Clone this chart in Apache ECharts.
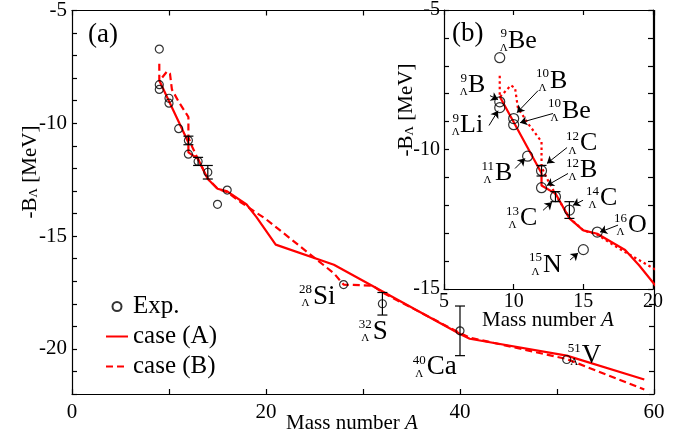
<!DOCTYPE html>
<html>
<head>
<meta charset="utf-8">
<script src="https://cdn.jsdelivr.net/npm/echarts@6.0.0/dist/echarts.min.js"></script>
<style>
  html, body { margin: 0; padding: 0; background: #fff; }
  #chart { width: 689px; height: 436px; }
</style>
</head>
<body>
<div id="chart"></div>
<script>
// experimental binding energies (-B_Lambda, MeV) vs mass number
const expA = [9, 9, 9, 10, 10, 11, 12, 12, 13, 14, 15, 16, 28, 32, 40, 51]
const expB = [-6.71, -8.29, -8.5, -8.89, -9.11, -10.24, -10.76, -11.37, -11.69, -12.17, -13.59, -12.96, -17.15, -18.0, -19.2, -20.47]
const expErr = [0, 0, 0, 0, 0, 0, 0.19, 0, 0.18, 0.3, 0, 0, 0, 0.5, 1.1, 0]

// case (A) calculation
const caseAA = [9, 12, 12, 13, 14, 15, 16, 18, 19, 21, 27, 40, 41, 51, 59]
const caseAB = [-8.1, -10.85, -11.29, -11.58, -12.47, -12.9, -13.02, -13.6, -14.15, -15.38, -16.27, -19.34, -19.55, -20.3, -21.36]

// case (B) calculation
const caseBA = [9, 9, 9.8, 10.1, 10.3, 11, 12, 12, 12.4, 13, 14, 15, 16, 17.4, 20, 27, 28, 31, 32, 40, 41, 51, 59]
const caseBB = [-7.36, -8.13, -7.7, -7.8, -8.5, -9.05, -9.72, -10.63, -11.05, -11.6, -12.45, -12.9, -13.05, -13.5, -14.25, -16.65, -17.15, -17.2, -17.5, -19.3, -19.5, -20.45, -21.8]

// hypernucleus tags, main panel
const mainTagMass = ['28', '32', '40', '51']
const mainTagElem = ['Si', 'S', 'Ca', 'V']
const mainTagA = [24.85, 31.0, 36.57, 52.55]
const mainTagB = [-17.68, -19.23, -20.81, -20.29]

// hypernucleus tags, inset
const insetTagMass = ['9', '9', '9', '10', '10', '12', '12', '11', '13', '14', '16', '15']
const insetTagElem = ['Be', 'B', 'Li', 'B', 'Be', 'C', 'B', 'B', 'C', 'C', 'O', 'N']
const insetTagA = [9.59, 6.72, 6.15, 12.61, 13.47, 14.76, 14.76, 8.66, 10.46, 16.2, 18.21, 12.11]
const insetTagB = [-6.11, -7.71, -9.14, -7.54, -8.61, -9.79, -10.75, -10.86, -12.46, -11.75, -12.71, -14.14]

// arrows in the inset (from label to point)
const arrowFromA = [8.3, 8.23, 11.75, 12.82, 13.83, 13.9, 10.1, 12.11, 14.98, 17.49, 14.05]
const arrowFromB = [-8.07, -9.14, -7.89, -8.71, -9.93, -10.86, -10.68, -12.18, -11.82, -12.71, -13.96]
const arrowToA = [8.88, 8.88, 10.24, 10.46, 12.39, 12.39, 10.81, 12.75, 14.26, 16.2, 14.62]
const arrowToB = [-8.21, -8.61, -8.68, -9.04, -10.5, -11.29, -10.32, -11.89, -12.0, -12.96, -13.71]

const FONT = '"Liberation Serif", "Times New Roman", "DejaVu Serif", serif'
const RED = '#ff0000'

const zip = (a, b) => a.map((v, i) => [v, b[i]])

const errData = expA.map((a, i) => [a, expB[i], expErr[i]]).filter((d) => d[2] > 0)

function errRender(params, api) {
  const x = api.value(0)
  const y = api.value(1)
  const e = api.value(2)
  const top = api.coord([x, y + e])
  const bot = api.coord([x, y - e])
  const s = { stroke: '#000', lineWidth: 1.2 }
  return {
    type: 'group',
    children: [
      { type: 'line', shape: { x1: top[0], y1: top[1], x2: bot[0], y2: bot[1] }, style: s },
      { type: 'line', shape: { x1: top[0] - 5, y1: top[1], x2: top[0] + 5, y2: top[1] }, style: s },
      { type: 'line', shape: { x1: bot[0] - 5, y1: bot[1], x2: bot[0] + 5, y2: bot[1] }, style: s },
    ],
  }
}

function tagRender(mass, elem, size) {
  return function (params, api) {
    const p = api.coord([api.value(0), api.value(1)])
    const i = params.dataIndex
    const mw = mass[i].length * 6.5
    return {
      type: 'group',
      children: [
        { type: 'text', x: p[0] - 1, y: p[1] - 7,
          style: { text: mass[i], font: `13px ${FONT}`, fill: '#000', textAlign: 'right', textVerticalAlign: 'middle' } },
        { type: 'text', x: p[0] - 1 - mw / 2, y: p[1] + 7,
          style: { text: 'Λ', font: `11px ${FONT}`, fill: '#000', textAlign: 'center', textVerticalAlign: 'middle' } },
        { type: 'text', x: p[0], y: p[1],
          style: { text: elem[i], font: `${size}px ${FONT}`, fill: '#000', textAlign: 'left', textVerticalAlign: 'middle' } },
      ],
    }
  }
}

function axis(gridIndex, position, min, max, interval, labelEvery, fontSize, margin, showLabel, z) {
  return {
    type: 'value',
    gridIndex,
    position,
    min,
    max,
    interval,
    z,
    axisLine: { show: true, onZero: false, lineStyle: { color: '#000', width: 1.2 } },
    axisTick: { show: true, inside: true, length: 5, lineStyle: { color: '#000', width: 1.2 } },
    splitLine: { show: false },
    axisLabel: {
      show: showLabel,
      margin,
      color: '#000',
      fontFamily: FONT,
      fontSize,
      showMinLabel: true,
      showMaxLabel: true,
      formatter: (v) => (Math.abs(v % labelEvery) < 1e-9 ? String(v) : ''),
    },
  }
}

const axisTitle = (x, y, text, rot) => ({
  type: 'text',
  x,
  y,
  rotation: rot,
  z: 50,
  style: {
    text,
    font: `21px ${FONT}`,
    fill: '#000',
    textAlign: 'center',
    textVerticalAlign: 'middle',
    rich: {
      i: { font: `italic 21px ${FONT}`, fontStyle: 'italic', fontSize: 21, fontFamily: FONT },
      s: { fontSize: 13, fontFamily: FONT, verticalAlign: 'bottom' },
    },
  },
})

const chart = echarts.init(document.getElementById('chart'))

const option = {
  animation: false,
  backgroundColor: '#fff',
  textStyle: { fontFamily: FONT },
  grid: [
    { left: 72, right: 35, top: 8, bottom: 42 },
    { left: 444, right: 36, top: 9, bottom: 147, show: true, backgroundColor: '#fff', borderWidth: 0, z: 15 },
  ],
  xAxis: [
    axis(0, 'bottom', 0, 60, 10, 20, 21, 8, true, 1),
    axis(0, 'top', 0, 60, 10, 20, 21, 8, false, 1),
    axis(1, 'bottom', 5, 20, 5, 5, 20, 3, true, 16),
    axis(1, 'top', 5, 20, 5, 5, 20, 3, false, 16),
  ],
  yAxis: [
    axis(0, 'left', -22, -5, 1, 5, 21, 5, true, 1),
    axis(0, 'right', -22, -5, 1, 5, 21, 5, false, 1),
    axis(1, 'left', -15, -5, 1, 5, 20, 4, true, 16),
    axis(1, 'right', -15, -5, 1, 5, 20, 4, false, 16),
  ],
  legend: {
    data: [
      { name: 'Exp.' },
      { name: 'case (A)', itemStyle: { opacity: 0 } },
      { name: 'case (B)', itemStyle: { opacity: 0 } },
    ],
    orient: 'vertical',
    left: 100,
    top: 289,
    itemWidth: 22,
    itemHeight: 9,
    itemGap: 5,
    selectedMode: false,
    textStyle: { fontFamily: FONT, fontSize: 25, color: '#000' },
  },
  graphic: [
    axisTitle(30, 172, '-B{s|Λ} [MeV]', Math.PI / 2),
    axisTitle(406, 110, '-B{s|Λ} [MeV]', Math.PI / 2),
    axisTitle(352, 423, 'Mass number {i|A}', 0),
    axisTitle(548, 320, 'Mass number {i|A}', 0),
    { type: 'text', x: 88, y: 35, z: 50, style: { text: '(a)', font: `27px ${FONT}`, fill: '#000', textVerticalAlign: 'middle' } },
    { type: 'text', x: 452, y: 34, z: 50, style: { text: '(b)', font: `27px ${FONT}`, fill: '#000', textVerticalAlign: 'middle' } },
  ],
  series: [
    {
      name: 'Exp.',
      type: 'scatter',
      xAxisIndex: 0,
      yAxisIndex: 0,
      data: zip(expA, expB),
      symbol: 'circle',
      symbolSize: 8,
      itemStyle: { color: 'rgba(255,255,255,0)', borderColor: '#000', borderWidth: 1.2 },
      z: 3,
    },
    {
      name: 'case (A)',
      type: 'line',
      xAxisIndex: 0,
      yAxisIndex: 0,
      data: zip(caseAA, caseAB),
      symbol: 'none',
      lineStyle: { color: RED, width: 2.2 },
      itemStyle: { color: RED },
      z: 2,
    },
    {
      name: 'case (B)',
      type: 'line',
      xAxisIndex: 0,
      yAxisIndex: 0,
      data: zip(caseBA, caseBB),
      symbol: 'none',
      lineStyle: { color: RED, width: 2.2, type: [7, 4] },
      itemStyle: { color: RED },
      z: 2,
    },
    {
      type: 'custom',
      xAxisIndex: 0,
      yAxisIndex: 0,
      renderItem: errRender,
      data: errData,
      silent: true,
      z: 3,
    },
    {
      type: 'custom',
      xAxisIndex: 0,
      yAxisIndex: 0,
      renderItem: tagRender(mainTagMass, mainTagElem, 27),
      data: zip(mainTagA, mainTagB),
      silent: true,
      z: 4,
    },
    // inset
    {
      name: 'exp-inset',
      type: 'scatter',
      xAxisIndex: 2,
      yAxisIndex: 2,
      data: zip(expA, expB),
      symbol: 'circle',
      symbolSize: 10,
      itemStyle: { color: 'rgba(255,255,255,0)', borderColor: '#000', borderWidth: 1.2 },
      z: 21,
      markLine: {
        silent: true,
        z: 30,
        symbol: ['none', 'arrow'],
        symbolSize: 7,
        label: { show: false },
        lineStyle: { color: '#000', width: 1, type: 'solid' },
        data: arrowFromA.map((a, i) => [{ coord: [a, arrowFromB[i]] }, { coord: [arrowToA[i], arrowToB[i]] }]),
      },
    },
    {
      name: 'A-inset',
      type: 'line',
      xAxisIndex: 2,
      yAxisIndex: 2,
      data: zip(caseAA, caseAB),
      symbol: 'none',
      clip: true,
      lineStyle: { color: RED, width: 2.2 },
      z: 20,
    },
    {
      name: 'B-inset',
      type: 'line',
      xAxisIndex: 2,
      yAxisIndex: 2,
      data: zip(caseBA, caseBB),
      symbol: 'none',
      clip: true,
      lineStyle: { color: RED, width: 2.2, type: [2.5, 3] },
      z: 20,
    },
    {
      type: 'custom',
      xAxisIndex: 2,
      yAxisIndex: 2,
      renderItem: errRender,
      data: errData.filter((d) => d[0] <= 20),
      silent: true,
      z: 21,
    },
    {
      type: 'custom',
      xAxisIndex: 2,
      yAxisIndex: 2,
      renderItem: tagRender(insetTagMass, insetTagElem, 26),
      data: zip(insetTagA, insetTagB),
      silent: true,
      z: 22,
    },
  ],
}

chart.setOption(option)
</script>
</body>
</html>
